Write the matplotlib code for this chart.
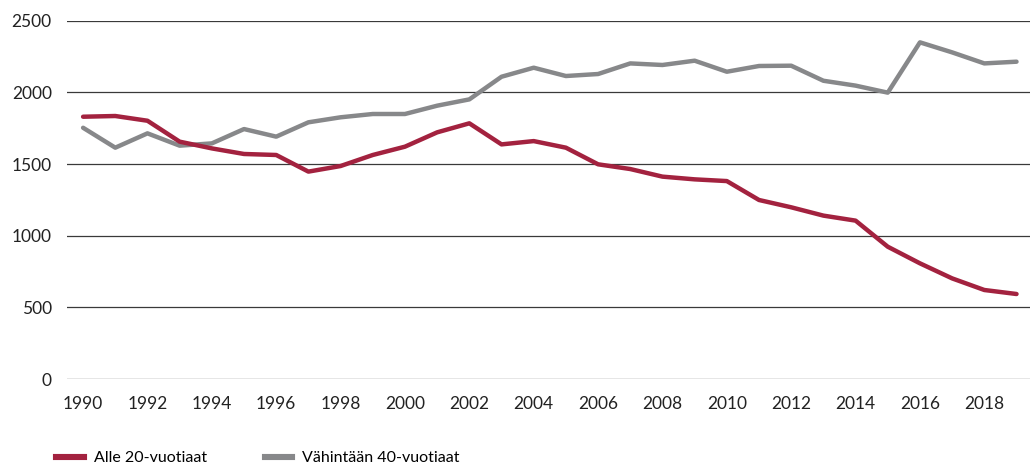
import matplotlib.pyplot as plt
from matplotlib.lines import Line2D

plt.rcParams['font.family'] = ['Lato', 'DejaVu Sans']

years = list(range(1990, 2020))

# Alle 20-vuotiaat
under_20 = [1830, 1835, 1802, 1656, 1609, 1570, 1563, 1447, 1486, 1563,
            1621, 1721, 1784, 1637, 1660, 1614, 1498, 1465, 1412, 1393,
            1381, 1249, 1198, 1140, 1105, 923, 807, 702, 621, 593]

# Vähintään 40-vuotiaat
over_40 = [1753, 1614, 1714, 1628, 1644, 1744, 1691, 1791, 1826, 1849,
           1849, 1907, 1951, 2109, 2172, 2114, 2128, 2202, 2191, 2221,
           2144, 2184, 2186, 2081, 2047, 1998, 2349, 2279, 2202, 2214]

labels = ['Alle 20-vuotiaat', 'Vähintään 40-vuotiaat']
colors = ['#A3223F', '#87888A']
yticks = [0, 500, 1000, 1500, 2000, 2500]
xticks = list(range(1990, 2019, 2))

fig = plt.figure(figsize=(10.3, 4.67), dpi=100)
ax = fig.add_axes([67 / 1030, 1 - 379 / 467, (1031 - 67) / 1030, (379 - 20.7) / 467])

for y in yticks:
    ax.axhline(y, color='#3a3a3a', linewidth=0.9, zorder=1)

ax.plot(years, under_20, color=colors[0], linewidth=3.2, solid_capstyle='round', zorder=3)
ax.plot(years, over_40, color=colors[1], linewidth=3.2, solid_capstyle='round', zorder=2)

ax.set_xlim(1989.5, 2019.45)
ax.set_ylim(0, 2500)
ax.set_yticks(yticks)
ax.set_xticks(xticks)
ax.tick_params(length=0, labelsize=12.5, colors='#222222')
ax.tick_params(axis='y', pad=11)
ax.tick_params(axis='x', pad=12)
for s in ax.spines.values():
    s.set_visible(False)

handles = [Line2D([], [], color=c, linewidth=4.4) for c in colors]
fig.legend(handles, labels, loc='center left', bbox_to_anchor=(42 / 1030, 1 - 458 / 467),
           ncol=2, frameon=False, fontsize=11.5, handlelength=1.75,
           columnspacing=3.6, handletextpad=0.6)

fig.savefig('out.png', dpi=100)
